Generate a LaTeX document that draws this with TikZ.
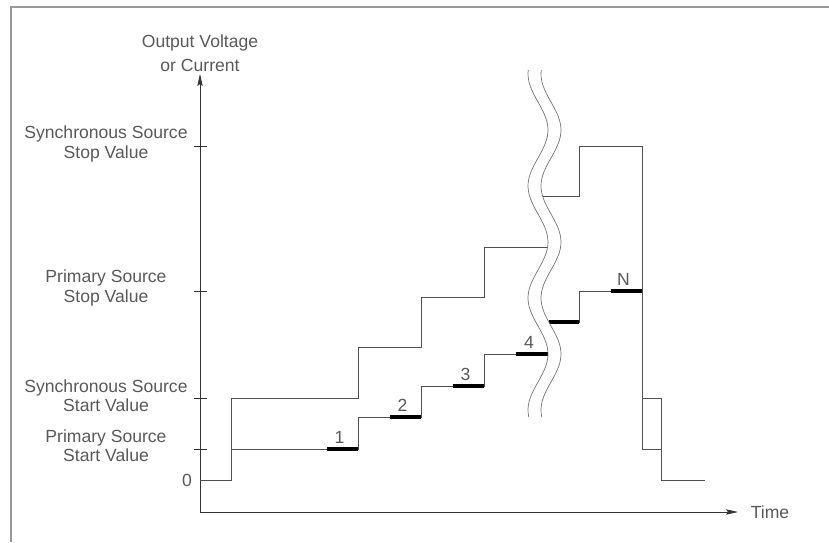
\documentclass[tikz,border=0pt]{standalone}
\usepackage{fontspec}
\setmainfont{Liberation Sans}
\usetikzlibrary{arrows.meta}
\definecolor{inkgray}{HTML}{505050}
\tikzset{
  frame/.style={draw=black!40, line width=1.1pt},
  axis/.style={draw=black!80, line width=0.6pt},
  trace/.style={draw=inkgray, line width=0.6pt},
  dwell/.style={draw=black, line width=2.8pt},
  breakline/.style={draw=black!55, line width=0.6pt},
  lbl/.style={text=black!65, font=\fontsize{15}{16.5}\selectfont, align=center, inner sep=0pt},
  tip/.style={-{Stealth[length=3.6mm, width=1.6mm, inset=0.6mm]}},
}
\begin{document}
\begin{tikzpicture}[x=0.3mm, y=-0.3mm]
  \useasboundingbox (0,0) rectangle (829,542);
  % frame
  \draw[frame] (11,542) -- (11,7) -- (829,7);
  % axes
  \coordinate (origin) at (200,512);
  \coordinate (ytop) at (200,74);
  \coordinate (xend) at (738,512);
  \draw[axis, tip] (origin) -- (ytop);
  \draw[axis, tip] (origin) -- (xend);
  \foreach \y in {146, 291, 398, 449} \draw[axis] (194,\y) -- (207,\y);
  % labels
  \node[lbl] (ytitle) at (200,53) {Output Voltage\\[1.4mm]or Current};
  \node[lbl] (xtitle) at (770,512) {Time};
  \node[lbl] (zero) at (187,480) {0};
  \node[lbl] (syncstop) at (106,144) {Synchronous Source\\Stop Value};
  \node[lbl] (primstop) at (106,288) {Primary Source\\Stop Value};
  \node[lbl] (syncstart) at (106,396) {Synchronous Source\\Start Value};
  \node[lbl] (primstart) at (106,446) {Primary Source\\Start Value};
  % synchronous source
  \draw[trace] (231,449) -- (231,398) -- (358,398) -- (358,347) -- (421,347) -- (421,297)
    -- (484,297) -- (484,247) -- (547.6,247);
  \draw[trace] (542.5,196) -- (579,196) -- (579,146) -- (642,146) -- (642,398) -- (661,398) -- (661,480);
  % primary source
  \draw[trace] (200,480) -- (231,480) -- (231,449) -- (358,449) -- (358,417) -- (421,417) -- (421,386)
    -- (484,386) -- (484,354) -- (548,354);
  \draw[trace] (548.8,322) -- (579,322) -- (579,291) -- (642,291) -- (642,449) -- (661,449) -- (661,480) -- (705,480);
  % measurement points
  \foreach \xa/\xb/\y/\n in {327/358/449/1, 390/421/417/2, 453/484/386/3, 516/548/354/4, 611/642/291/N} {
    \draw[dwell] (\xa,\y) -- (\xb,\y);
    \node[lbl] (step\n) at ({(\xa+\xb)/2-3},{\y-12}) {\n};
  }
  \draw[dwell] (548.8,322) -- (579,322);
  % time break
  \draw[breakline] plot[domain=70:417, samples=90, smooth, variable=\t] ({538+10*cos(3.2143*(\t-130))}, \t);
  \draw[breakline] plot[domain=70:417, samples=90, smooth, variable=\t] ({551+10*cos(3.2143*(\t-130))}, \t);
\end{tikzpicture}
\end{document}
